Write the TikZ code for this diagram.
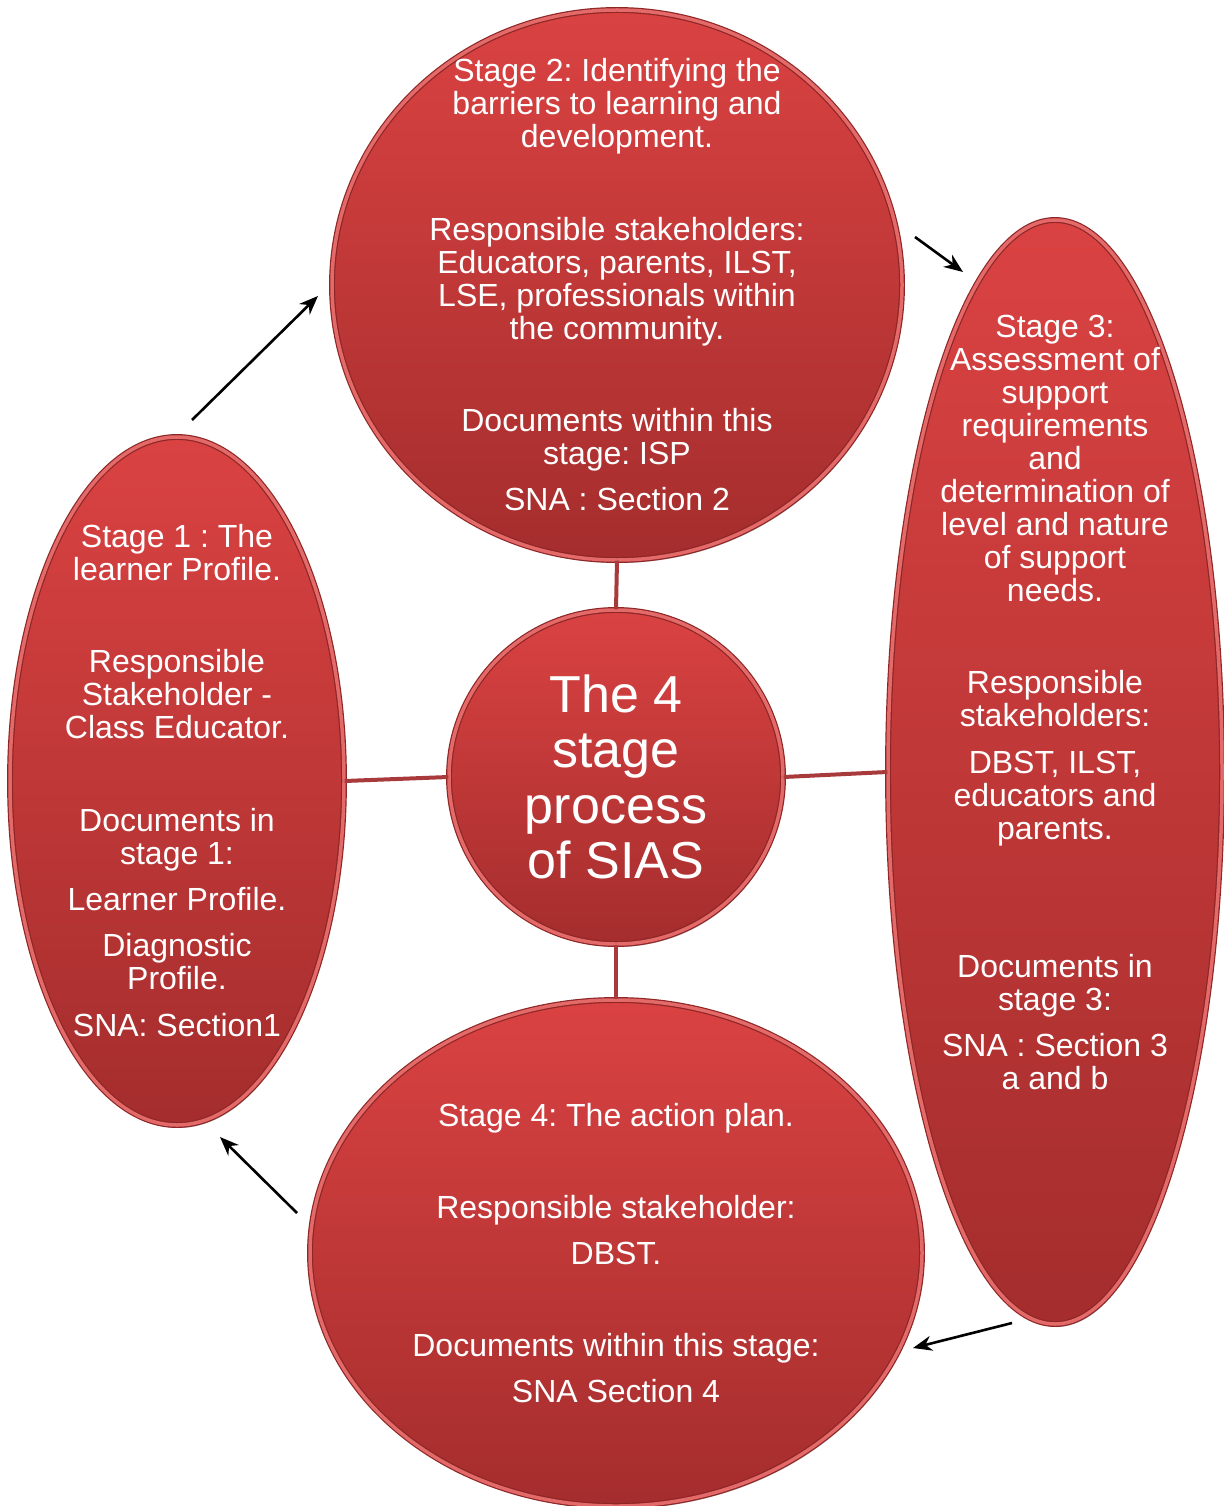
\documentclass[tikz,border=0pt]{standalone}
\usepackage{fontspec}
\setmainfont{Liberation Sans}
\usepackage{tikz}
\usetikzlibrary{shapes.geometric,arrows.meta,shadows}

\definecolor{stagetop}{HTML}{DA4242}
\definecolor{stagebot}{HTML}{A52D2D}
\definecolor{stageedge}{HTML}{8E2626}
\definecolor{stagerim}{HTML}{E46A6A}
\definecolor{linkred}{HTML}{A83A3C}

\tikzset{
  stage/.style={ellipse, inner sep=0pt, top color=stagetop, bottom color=stagebot,
    draw=stageedge, double=stagerim, double distance=3.5pt, line width=1.2pt,
    drop shadow={shadow xshift=1.5pt, shadow yshift=-3pt, opacity=0.3, fill=black}},
  stagetext/.style={text=white, align=center, inner sep=0pt, font=\fontsize{32}{33}\selectfont},
  hubtext/.style={text=white, align=center, inner sep=0pt, font=\fontsize{52}{55.5}\selectfont},
  link/.style={draw=linkred, line width=4pt},
  flow/.style={draw=black, line width=2.6pt, -{Stealth[length=19pt,width=15pt]}}
}

\begin{document}
\frenchspacing
\begin{tikzpicture}[x=1pt, y=-1pt]
  \useasboundingbox (0,0) rectangle (1223,1506);

  % Stages
  \node (s2) [stage, minimum width=570pt, minimum height=550pt] at (617,285) {};
  \node (s1) [stage, minimum width=334pt, minimum height=688pt] at (177,781) {};
  \node (s3) [stage, minimum width=334pt, minimum height=1104pt] at (1055,772) {};
  \node (s4) [stage, minimum width=612pt, minimum height=506pt] at (616,1253) {};
  \node (hub) [stage, minimum width=334pt, minimum height=334pt] at (616,777) {};

  % Links to the centre
  \draw[link] (s2.south) -- (hub.north);
  \draw[link] (s1.east) -- (hub.west);
  \draw[link] (hub.east) -- (s3.west);
  \draw[link] (hub.south) -- (s4.north);

  % Texts
  \node (hubtxt) [hubtext] at (hub.center) {The 4\\ stage\\ process\\ of SIAS};
  \node (s2txt) [stagetext] at (s2.center) {Stage 2: Identifying the\\ barriers to learning and\\ development.\\[60pt]
    Responsible stakeholders:\\ Educators, parents, ILST,\\ LSE, professionals within\\ the community.\\[59pt]
    Documents within this\\ stage: ISP\\[13pt] SNA : Section 2};
  \node (s1txt) [stagetext] at (s1.center) {Stage 1 : The\\ learner Profile.\\[59pt]
    Responsible\\ Stakeholder -\\ Class Educator.\\[60pt]
    Documents in\\ stage 1:\\[13pt] Learner Profile.\\[13pt] Diagnostic\\ Profile.\\[14pt] SNA: Section1};
  \node (s3txt) [stagetext] at ([yshift=70pt]s3.center) {Stage 3:\\ Assessment of\\ support\\ requirements\\ and\\ determination of\\ level and nature\\ of support\\ needs.\\[59pt]
    Responsible\\ stakeholders:\\[14pt] DBST, ILST,\\ educators and\\ parents.\\[105pt]
    Documents in\\ stage 3:\\[13pt] SNA : Section 3\\ a and b};
  \node (s4txt) [stagetext] at (s4.center) {Stage 4: The action plan.\\[59pt]
    Responsible stakeholder:\\[13pt] DBST.\\[59pt]
    Documents within this stage:\\[13pt] SNA Section 4};

  % Arrows
  \coordinate (from1) at (192,420);
  \coordinate (to1) at (318,296);
  \coordinate (from2) at (915,237);
  \coordinate (to2) at (963,272);
  \coordinate (from3) at (1012,1323);
  \coordinate (to3) at (913,1348);
  \coordinate (from4) at (297,1213);
  \coordinate (to4) at (220,1137);
  \draw[flow] (from1) -- (to1);
  \draw[flow] (from2) -- (to2);
  \draw[flow] (from3) -- (to3);
  \draw[flow] (from4) -- (to4);
\end{tikzpicture}
\end{document}
